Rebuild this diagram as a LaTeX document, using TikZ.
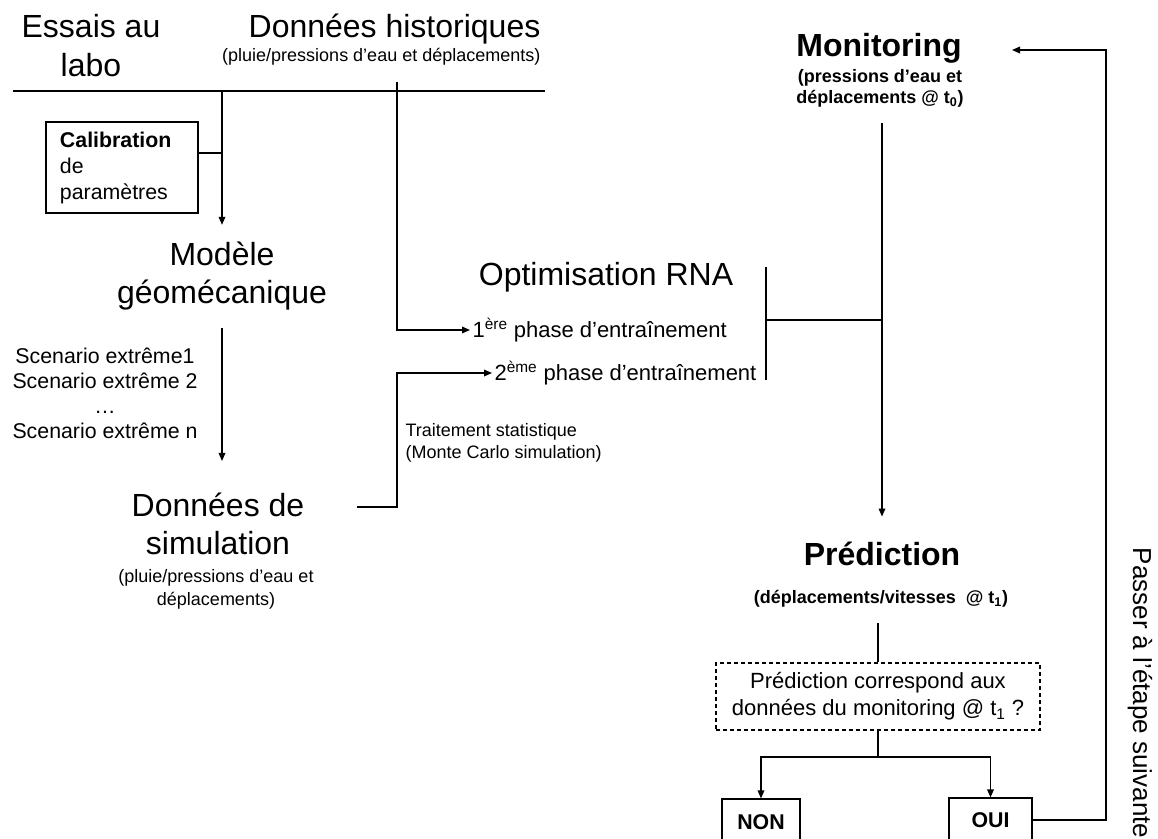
\documentclass[tikz,border=0pt]{standalone}
\usepackage{fontspec}
\setmainfont{Liberation Sans}
\usetikzlibrary{arrows.meta,calc}
\begin{document}
\begin{tikzpicture}[x=0.75pt,y=-0.75pt,line width=0.9pt,
  arr/.style={-{Triangle[length=6pt,width=5pt]}},
  bigtxt/.style={font=\fontsize{24}{28.5}\selectfont,align=center,inner sep=0pt},
  bigbold/.style={font=\bfseries\fontsize{24}{28.5}\selectfont,align=center,inner sep=0pt},
  subtxt/.style={font=\fontsize{13.5}{17.25}\selectfont,align=center,inner sep=0pt},
  subbold/.style={font=\bfseries\fontsize{13.5}{15.75}\selectfont,align=center,inner sep=0pt},
  midtxt/.style={font=\fontsize{16.5}{20.25}\selectfont},
  answer/.style={draw,font=\bfseries\fontsize{16}{19}\selectfont,inner sep=0pt}]
\path[fill=white,use as bounding box] (0,0) rectangle (1158,839);
\clip (0,0) rectangle (1158,839);

% top-left
\node[bigtxt,font=\fontsize{24}{29.25}\selectfont] (essais) at (91,46) {Essais au\\labo};
\node[bigtxt,anchor=east] (hist) at (541,29) {Données historiques};
\node[subtxt,anchor=east] (histsub) at (541,57) {(pluie/pressions d’eau et déplacements)};
\coordinate (sepL) at (13,91);
\coordinate (sepR) at (545,91);
\draw (sepL) -- (sepR);

% calibration
\node[draw,font=\fontsize{16}{19.5}\selectfont,align=left,text width=93pt,
      inner xsep=10.5pt,minimum height=68.25pt] (calib) at (122,167.5)
      {\textbf{Calibration}\\de\\paramètres};
\coordinate (calx) at (222,91);
\node[bigtxt,inner xsep=0pt,inner ysep=12.75pt] (modele) at (222,276.5) {Modèle\\géomécanique};
\draw[arr] (calx) -- (modele.north);
\draw ([yshift=10.9pt]calib.east) -- ([yshift=10.9pt]calib.east -| calx);

% scenarios and simulation data
\node[font=\fontsize{16}{18.75}\selectfont,align=center,inner sep=0pt] (scen) at (105,393)
      {Scenario extrême1\\Scenario extrême 2\\…\\Scenario extrême n};
\node[bigtxt,inner xsep=0pt,inner ysep=23.25pt] (donsim) at (218,523.5) {Données de\\simulation};
\draw[arr] (modele.south) -- (modele.south |- donsim.north);
\node[subtxt] (simsub) at (216,589) {(pluie/pressions d’eau et\\déplacements)};

% optimisation
\node[bigtxt] (optim) at (606,277) {Optimisation RNA};
\node[midtxt,anchor=west,inner sep=1.5pt] (ph1) at (470,330) {1\textsuperscript{ère} phase d’entraînement};
\node[midtxt,anchor=west,inner sep=1.5pt] (ph2) at (492,373) {2\textsuperscript{ème} phase d’entraînement};
\coordinate (histdrop) at (397,82);
\draw[arr] (histdrop) |- (ph1.west);
\coordinate (dsout) at (357,507);
\coordinate (dsbend) at (397,507);
\draw[arr] (dsout) -- (dsbend) |- (ph2.west);
\node[font=\fontsize{13.5}{16.5}\selectfont,align=left,anchor=north west,inner sep=0pt] (mc) at (405,423)
      {Traitement statistique\\(Monte Carlo simulation)};

% bracket joining the two phases
\coordinate (brT) at (766,267);
\coordinate (brB) at (766,380);
\coordinate (brM) at (766,320);
\draw (brT) -- (brB);

% monitoring
\node[bigbold] (mon) at (879,48) {Monitoring};
\node[subbold] (monsub) at (880,88) {(pressions d’eau et\\déplacements @ t\textsubscript{0})};
\coordinate (montop) at (882,123);
\node[bigbold,inner xsep=0pt,inner ysep=18.75pt] (pred) at (882,554) {Prédiction};
\draw[arr] (montop) -- (pred.north);
\draw (brM) -- (brM -| montop);
\node[subbold] (predsub) at (881,599) {(déplacements/vitesses~~@ t\textsubscript{1})};

% check
\node[draw,dash pattern=on 3pt off 2.25pt,minimum width=243pt,minimum height=50.25pt,
      midtxt,align=center,inner sep=0pt] (check) at (878,696.5)
      {Prédiction correspond aux\\données du monitoring @ t\textsubscript{1} ?};
\coordinate (psb) at (878,623);
\draw (psb) -- (check.north);
\node[answer,minimum width=58.5pt,minimum height=34.5pt] (non) at (761,822) {NON};
\node[answer,minimum width=62.25pt,minimum height=33pt] (oui) at (990.5,820) {OUI};
\coordinate (split) at (878,757);
\draw (check.south) -- (split);
\draw[arr] (split) -| (non.north);
\draw[arr] (split) -| (oui.north);

% feedback loop
\coordinate (fb) at (1106,50);
\coordinate (montip) at (1012,50);
\draw[arr] (oui.east) -| (fb) -- (montip);
\node[rotate=-90,font=\fontsize{19.5}{22}\selectfont,inner sep=0pt] (passer) at (1140,693)
      {Passer à l’étape suivante};
\end{tikzpicture}
\end{document}
